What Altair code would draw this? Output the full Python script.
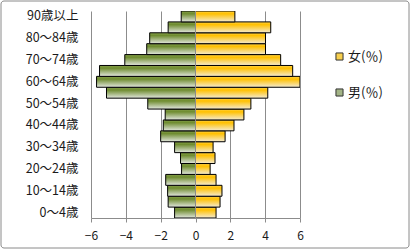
import altair as alt
import pandas as pd

ages = ["0～4歳", "5～9歳", "10～14歳", "15～19歳", "20～24歳", "25～29歳",
        "30～34歳", "35～39歳", "40～44歳", "45～49歳", "50～54歳", "55～59歳",
        "60～64歳", "65～69歳", "70～74歳", "75～79歳", "80～84歳", "85～89歳",
        "90歳以上"]
male = [1.20, 1.57, 1.60, 1.71, 0.80, 0.86, 1.20, 2.00, 1.85, 1.74, 2.74, 5.11,
        5.68, 5.51, 4.06, 2.80, 2.63, 1.57, 0.82]
female = [1.18, 1.41, 1.52, 1.18, 0.84, 1.12, 1.01, 1.70, 2.21, 2.78, 3.18, 4.15,
          6.00, 5.58, 4.89, 4.02, 4.02, 4.32, 2.26]
series = ["女(％)", "男(％)"]
x_ticks = [-6, -4, -2, 0, 2, 4, 6]
shown_labels = ages[::2]

FONT = "Noto Sans CJK JP"

df_m = pd.DataFrame({"age": ages, "value": [-v for v in male], "sex": series[1]})
df_f = pd.DataFrame({"age": ages, "value": female, "sex": series[0]})
df = pd.concat([df_f, df_m], ignore_index=True)
df_zero = pd.DataFrame({"value": [0]})

order = list(reversed(ages))

y_enc = alt.Y("age:N", sort=order, title=None,
              scale=alt.Scale(paddingInner=0, paddingOuter=0),
              axis=alt.Axis(values=shown_labels, ticks=False, domain=False,
                            labelPadding=13, labelFontSize=12.5, labelFont=FONT,
                            labelColor="#1a1a1a", grid=False, labelOverlap=False,
                            tickCount=20))
x_enc = alt.X("value:Q", title=None,
              scale=alt.Scale(domain=[-6, 6], nice=False),
              axis=alt.Axis(values=x_ticks, tickCount=12, grid=True,
                            gridColor="#8c8c8c",
                            domainColor="#8c8c8c", tickColor="#8c8c8c",
                            tickSize=4, labelPadding=8, labelFontSize=12,
                            labelFont=FONT, labelColor="#1a1a1a",
                            labelFlush=False, labelOverlap=False))

grad_f = alt.LinearGradient(gradient="linear", x1=0, x2=0, y1=0, y2=1, stops=[
    alt.GradientStop(color="#ffd24a", offset=0),
    alt.GradientStop(color="#ffc000", offset=0.25),
    alt.GradientStop(color="#f4ebd2", offset=1)])
grad_m = alt.LinearGradient(gradient="linear", x1=0, x2=0, y1=0, y2=1, stops=[
    alt.GradientStop(color="#86a04a", offset=0),
    alt.GradientStop(color="#6f8c30", offset=0.25),
    alt.GradientStop(color="#e3e7df", offset=1)])

bars_m = alt.Chart(df_m).mark_bar(fill=grad_m, stroke="#000000", strokeWidth=1,
                                  clip=True).encode(x=x_enc, y=y_enc)
bars_f = alt.Chart(df_f).mark_bar(fill=grad_f, stroke="#000000", strokeWidth=1,
                                  clip=True).encode(x=x_enc, y=y_enc)

zero_rule = alt.Chart(df_zero).mark_rule(color="#8c8c8c", strokeWidth=1).encode(
    x=x_enc)

legend_layer = alt.Chart(df).mark_square(opacity=0, size=1).encode(
    x=x_enc, y=y_enc,
    color=alt.Color("sex:N", title=None,
                    scale=alt.Scale(domain=series, range=["#f7cf4e", "#a3b486"]),
                    legend=alt.Legend(orient="none", legendX=242, legendY=39,
                                      symbolType="square", symbolSize=50,
                                      symbolOpacity=1, symbolStrokeColor="#333333",
                                      symbolStrokeWidth=1, labelFontSize=13,
                                      labelFont=FONT, labelColor="#1a1a1a",
                                      rowPadding=22, labelOffset=2)))

frame = alt.Chart(df_zero).mark_rect(fill=None, stroke="#8a8a8a", strokeWidth=1,
                                     cornerRadius=3).encode(
    x=alt.value(-90), x2=alt.value(318), y=alt.value(-10), y2=alt.value(237))

chart = alt.layer(bars_m, bars_f, zero_rule, legend_layer, frame).properties(
    width=209, height=207,
    autosize=alt.AutoSizeParams(type="none"),
    padding={"left": 91, "top": 11, "right": 111, "bottom": 32},
    background="#ffffff",
).configure_view(stroke=None)

chart.save("out.html", embed_options={"renderer": "svg", "actions": False})
